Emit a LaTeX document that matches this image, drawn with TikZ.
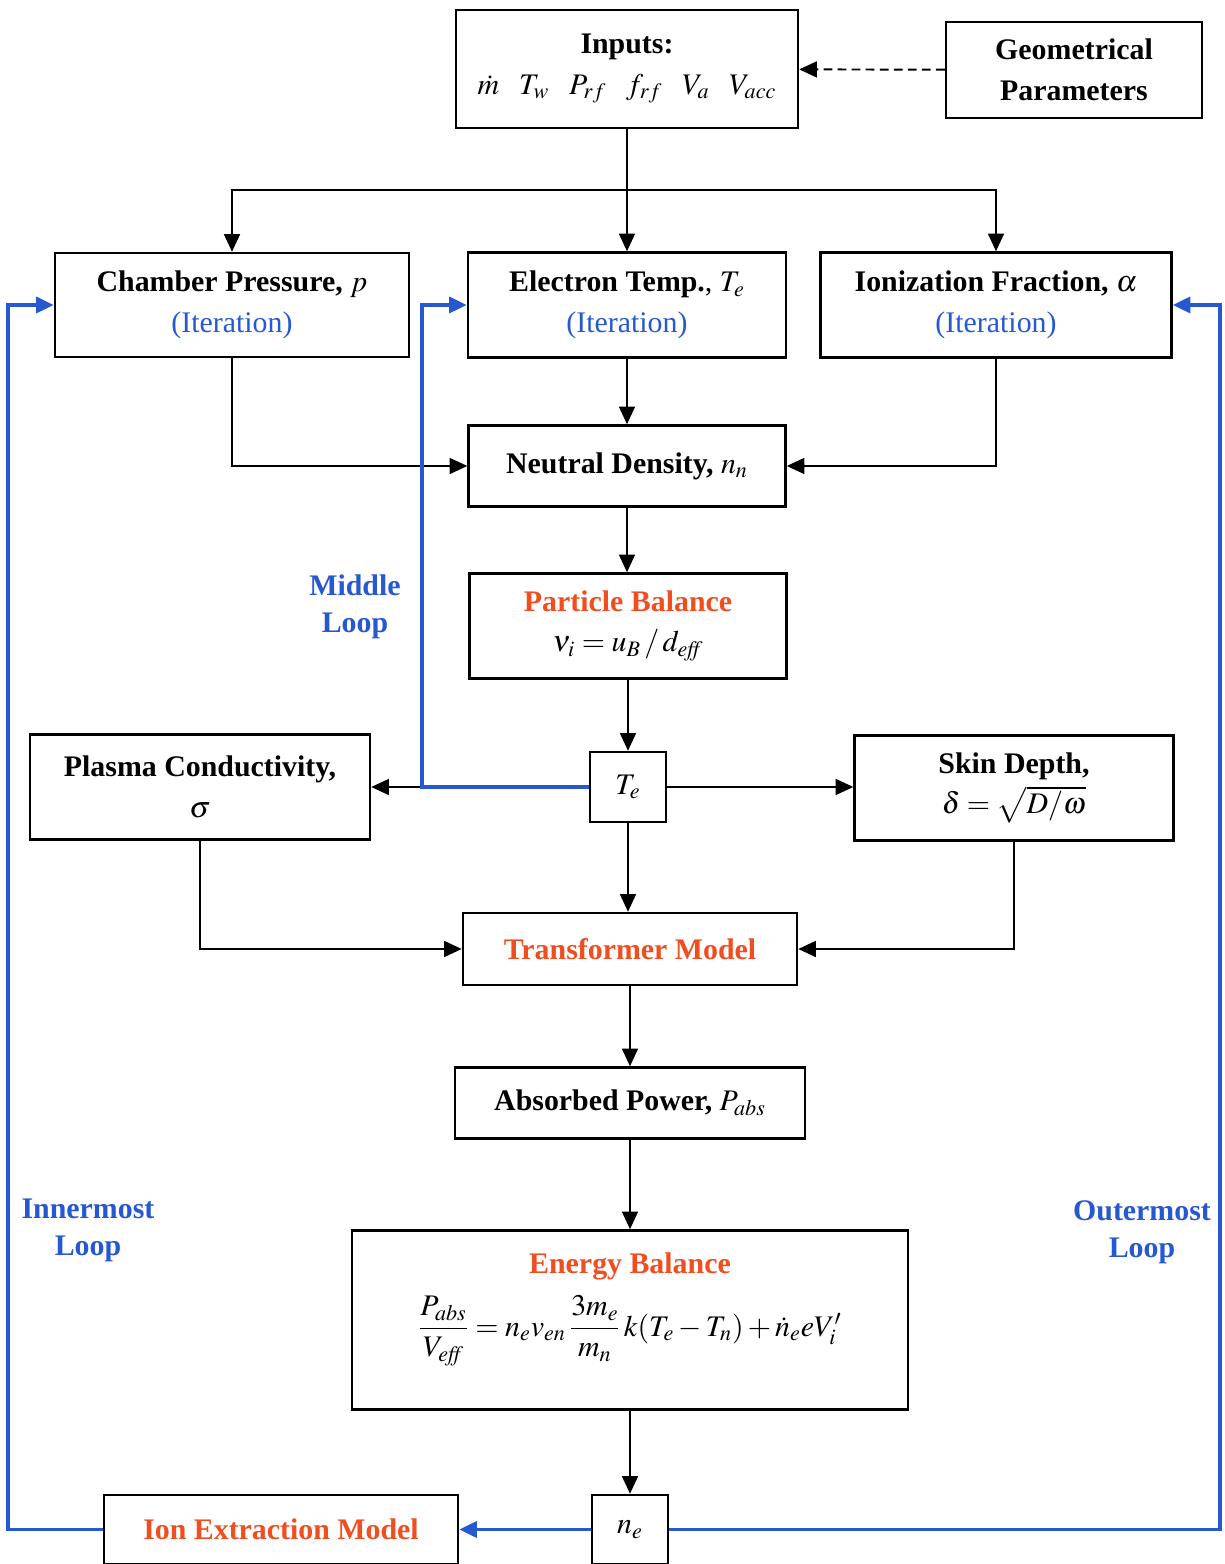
\documentclass[tikz,border=0pt]{standalone}
\usepackage{amsmath}
\usepackage{mathptmx}
\usepackage{fontspec}
\setmainfont{Liberation Serif}
\usetikzlibrary{arrows.meta}
\definecolor{loopblue}{RGB}{38,88,210}
\definecolor{titlered}{RGB}{240,78,30}

\begin{document}
\begin{tikzpicture}[
    >={Triangle[length=10pt,width=9pt]},
    box/.style={draw, line width=1.4pt, align=center, inner sep=2pt, font=\fontsize{17}{23}\selectfont},
    flow/.style={->, line width=1.1pt},
    loopline/.style={->, draw=loopblue, line width=2.2pt},
    lbl/.style={font=\fontsize{17}{21}\selectfont\bfseries, text=loopblue, align=center}
]
\useasboundingbox (0,0) rectangle (24.5,31.28);

\node[box, minimum width=6.84cm, minimum height=2.36cm] (inputs) at (12.54,29.90) {\textbf{Inputs:}\\
$\dot m\;\;\; T_w\;\;\; P_{rf}\;\;\; f_{rf}\;\;\; V_a\;\;\; V_{acc}$};
\node[box, minimum width=5.12cm, minimum height=1.92cm] (geo) at (21.48,29.88) {\textbf{Geometrical}\\ \textbf{Parameters}};

\node[box, minimum width=7.08cm, minimum height=2.08cm] (chamber) at (4.64,25.18) {\textbf{Chamber Pressure,} $p$\\
\textcolor{loopblue}{(Iteration)}};
\node[box, minimum width=6.36cm, minimum height=2.10cm] (electron) at (12.54,25.18) {\textbf{Electron Temp.}, $T_e$\\
\textcolor{loopblue}{(Iteration)}};
\node[box, minimum width=7.02cm, minimum height=2.10cm] (ionization) at (19.92,25.18) {\textbf{Ionization Fraction,} $\alpha$\\
\textcolor{loopblue}{(Iteration)}};

\node[box, minimum width=6.34cm, minimum height=1.62cm] (neutral) at (12.54,21.96) {\textbf{Neutral Density,} $n_n$};
\node[box, minimum width=6.34cm, minimum height=2.10cm] (particle) at (12.56,18.76) {\textcolor{titlered}{\textbf{Particle Balance}}\\
$\nu_i = u_B \,/\, d_{\mathit{eff}}$};

\node[box, minimum width=6.80cm, minimum height=2.10cm] (plasma) at (4.00,15.54) {\textbf{Plasma Conductivity,}\\ $\sigma$};
\node[box, minimum width=1.52cm, minimum height=1.40cm] (te) at (12.56,15.54) {$T_e$};
\node[box, minimum width=6.38cm, minimum height=2.10cm] (skin) at (20.28,15.52) {\textbf{Skin Depth,}\\
$\delta = \sqrt{D/\omega}$};

\node[box, minimum width=6.68cm, minimum height=1.44cm] (transformer) at (12.60,12.30) {\textcolor{titlered}{\textbf{Transformer Model}}};
\node[box, minimum width=7.00cm, minimum height=1.42cm] (absorbed) at (12.60,9.22) {\textbf{Absorbed Power,} $P_{abs}$};
\node[box, minimum width=11.12cm, minimum height=3.58cm] (energy) at (12.60,4.88) {\textcolor{titlered}{\textbf{Energy Balance}}\\[8pt]
$\dfrac{P_{abs}}{V_{\mathit{eff}}} = n_e v_{en}\,\dfrac{3m_e}{m_n}\,k(T_e - T_n) + \dot n_e e V_i'$\\[6pt]\mbox{}};

\node[box, minimum width=7.08cm, minimum height=1.38cm] (ionext) at (5.62,0.69) {\textcolor{titlered}{\textbf{Ion Extraction Model}}};
\node[box, minimum width=1.52cm, minimum height=1.38cm] (ne) at (12.60,0.69) {$n_e$};

\node[lbl] (midlbl) at (7.10,19.14) {Middle\\ Loop};
\node[lbl] (innerlbl) at (1.76,6.68) {Innermost\\ Loop};
\node[lbl] (outerlbl) at (22.84,6.64) {Outermost\\ Loop};

\coordinate (split) at (12.54,27.48);
\coordinate (midx) at (8.44,0);
\coordinate (inx) at (0.16,0);
\coordinate (outx) at (24.40,0);

\draw[flow, dashed, dash pattern=on 5pt off 3pt] (geo) -- (inputs);
\draw[line width=1.1pt] (inputs.south) -- (split);
\draw[flow] (split) -- (electron.north);
\draw[flow] (split) -| (chamber.north);
\draw[flow] (split) -| (ionization.north);
\draw[flow] (chamber.south) |- (neutral.west);
\draw[flow] (electron) -- (neutral);
\draw[flow] (ionization.south) |- (neutral.east);
\draw[flow] (neutral.south) -- (neutral.south |- particle.north);
\draw[flow] (particle) -- (te);
\draw[flow] (te) -- (plasma);
\draw[flow] (te) -- (skin.west |- te);
\draw[flow] (te) -- (te |- transformer.north);
\draw[flow] (plasma.south) |- (transformer.west);
\draw[flow] (skin.south) |- (transformer.east);
\draw[flow] (transformer) -- (absorbed);
\draw[flow] (absorbed) -- (energy);
\draw[flow] (energy) -- (ne);

\draw[loopline] (te.west) -- (te.west -| midx) |- (electron.west);
\draw[loopline] (ne) -- (ionext);
\draw[loopline] (ionext.west) -- (ionext.west -| inx) |- (chamber.west);
\draw[loopline] (ne.east) -- (ne.east -| outx) |- (ionization.east);
\end{tikzpicture}
\end{document}
